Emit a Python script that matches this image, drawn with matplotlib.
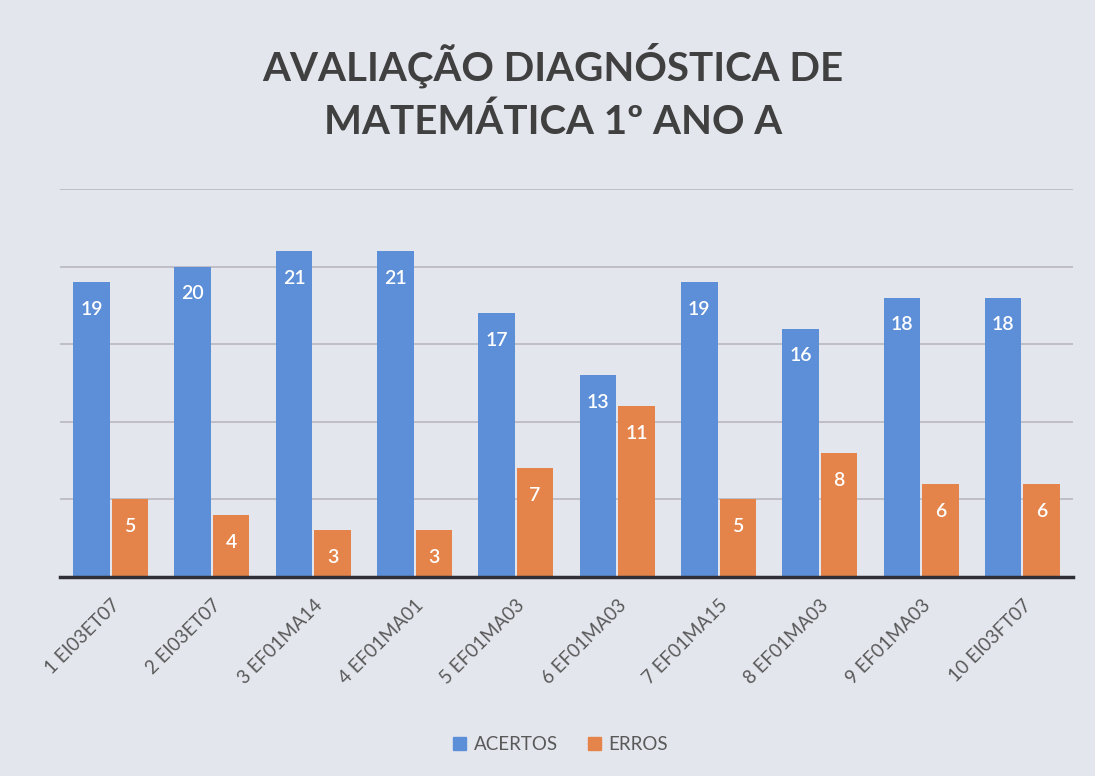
import matplotlib
matplotlib.use("Agg")
import matplotlib.pyplot as plt
import numpy as np
from matplotlib.patches import Patch

categories = ["1 EI03ET07", "2 EI03ET07", "3 EF01MA14", "4 EF01MA01", "5 EF01MA03",
              "6 EF01MA03", "7 EF01MA15", "8 EF01MA03", "9 EF01MA03", "10 EI03FT07"]
acertos = [19, 20, 21, 21, 17, 13, 19, 16, 18, 18]
erros = [5, 4, 3, 3, 7, 11, 5, 8, 6, 6]
series_names = ["ACERTOS", "ERROS"]
title = "AVALIAÇÃO DIAGNÓSTICA DE\nMATEMÁTICA 1º ANO A"

BLUE = "#5d8fd8"
ORANGE = "#e5844a"
BG = "#e4e6ee"
FONT = ["Lato", "DejaVu Sans"]

fig = plt.figure(figsize=(10.95, 7.76), dpi=100)
fig.patch.set_facecolor(BG)
ax = fig.add_axes([0.0548, 0.2564, 0.9252, 0.5])
ax.set_facecolor(BG)

x = np.arange(len(categories))
w = 0.36
b1 = ax.bar(x - w / 2 - 0.01, acertos, w, color=BLUE, zorder=3)
b2 = ax.bar(x + w / 2 + 0.01, erros, w, color=ORANGE, zorder=3)

for bars in (b1, b2):
    for r in bars:
        h = r.get_height()
        ax.text(r.get_x() + r.get_width() / 2, h - 1.75, f"{int(h)}",
                ha="center", va="center", color="white", fontsize=14,
                fontweight="semibold", family=FONT, zorder=4)

ax.set_xlim(-0.5, len(categories) - 0.5)
ax.set_ylim(0, 25)
ax.set_yticks([0, 5, 10, 15, 20, 25])
ax.yaxis.grid(True, color="#b9b7bf", linewidth=1.2, zorder=0)
ax.tick_params(axis="y", left=False, labelleft=False)
ax.tick_params(axis="x", length=0, pad=14)
ax.set_xticks(x)
ax.set_xticklabels(categories, rotation=45, ha="right", rotation_mode="anchor",
                   fontsize=13.5, color="#595959", family=FONT)
for s in ["top", "right", "left"]:
    ax.spines[s].set_visible(False)
ax.spines["bottom"].set_color("#2e2e36")
ax.spines["bottom"].set_linewidth(2.5)
ax.spines["bottom"].set_zorder(5)

fig.text(0.505, 0.882, title, ha="center", va="center", fontsize=29,
         fontweight="bold", color="#404040", family=FONT, linespacing=1.5)

handles = [Patch(color=BLUE), Patch(color=ORANGE)]
fig.legend(handles, series_names, loc="center", bbox_to_anchor=(0.512, 0.04),
           ncol=2, frameon=False, handlelength=0.7, handleheight=0.7,
           handletextpad=0.4, columnspacing=1.6,
           prop={"family": FONT, "size": 13.5})
for t in fig.legends[0].get_texts():
    t.set_color("#595959")

fig.savefig("out.png", dpi=100, facecolor=BG)
